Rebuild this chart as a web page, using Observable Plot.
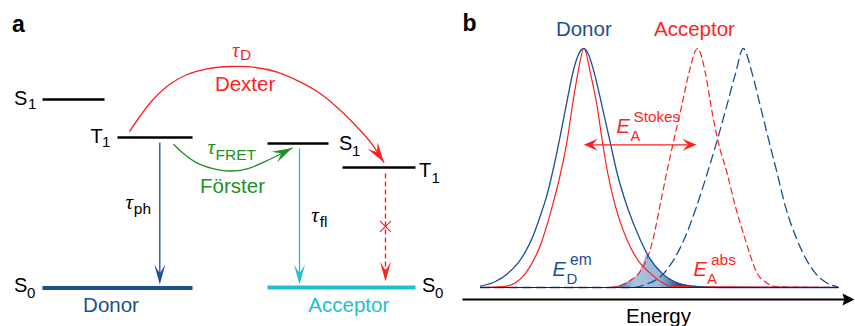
<!DOCTYPE html>
<html><head><meta charset="utf-8">
<script src="https://cdn.jsdelivr.net/npm/d3@7"></script>
<script src="https://cdn.jsdelivr.net/npm/@observablehq/plot@0.6"></script>
<style>
html,body{margin:0;padding:0;background:#fff;}
#fig{position:relative;width:855px;height:326px;overflow:hidden;}
#pa,#pb{position:absolute;left:0;top:0;}
</style></head><body><div id="fig"><div id="pa"></div><div id="pb"></div></div>
<script>
// ---------- Panel a : Jablonski-type level diagram (figure units) ----------
const levelX1 = [42, 117, 267, 342];
const levelX2 = [104, 192, 328, 415];
const levelY  = [99, 137, 143, 167];
const groundX1 = [42, 267];
const groundX2 = [192, 415];
const groundY  = [287.5, 287];
const stateText = ["S", "T", "S", "T", "S", "S"];
const stateSub  = ["1", "1", "1", "1", "0", "0"];
const stateX = [13.5, 90, 338.5, 418.5, 13.5, 421.5];
const stateY = [104, 142.5, 149.5, 176.5, 291.5, 291.5];
const stateSubX = [27.5, 101.5, 351.5, 431, 26.5, 434.5];
const stateSubY = [108.5, 146, 155, 182, 297.5, 297.5];
const groundNames = ["Donor", "Acceptor"];
const groundNameX = [110.5, 348.3];
const groundNameY = [311.7, 311.7];
// vertical decay arrows: phosphorescence, fluorescence, blocked
const decayX = [159.3, 299, 385];
const decayY1 = [142, 148, 173];
const decayY2 = [284, 284, 281];
const crossY = 226;
// Dexter and Förster transfer arcs
const dexterX = [129.3, 140, 153.3, 170, 186.7, 206.7, 230, 253.3, 276.7, 300, 320, 340, 356.7, 370, 383.3];
const dexterY = [130.7, 115, 98.3, 83.3, 74, 68.3, 66, 66.7, 71.7, 81.7, 93.3, 110, 126.7, 141.7, 161.7];
const fretX = [173.3, 183.3, 196.7, 213.3, 230, 246.7, 263.3, 291.7];
const fretY = [144, 153.3, 162.7, 168.3, 170.5, 168.3, 161.7, 147.5];
const dexterHeadAngle = 56, fretHeadAngle = -27;
// tau labels
const tauNames = ["D", "FRET", "ph", "fl"];
const tauX = [231.5, 207, 125, 310.7];
const tauY = [56, 153.5, 208, 221];
const tauSubX = [239.5, 215, 133.3, 319.3];
const tauSubY = [59.5, 159.5, 213.3, 226.7];
const processNames = ["Dexter", "Förster"];
const processX = [244.6, 232];
const processY = [90.5, 192.3];

// ---------- Panel b : spectra (energy in figure units, intensity 0..1) ----------
const donorEmX = [480, 495, 507, 517, 525, 532, 539, 546, 553, 560, 567, 573, 578, 583, 588, 594, 601.7, 609.3, 616.7, 626.7, 640, 648.3, 661.7, 680, 700, 720, 838];
const donorEmI = [0.006, 0.025, 0.058, 0.1, 0.15, 0.21, 0.29, 0.38, 0.5, 0.64, 0.79, 0.91, 0.975, 1.0, 0.975, 0.895, 0.756, 0.616, 0.477, 0.338, 0.198, 0.128, 0.059, 0.015, 0.003, 0, 0];
const redSolidX = [480, 503, 515, 525, 541.7, 551.7, 560, 566.7, 571.7, 577.3, 583.5, 590, 596.7, 601.7, 607.3, 615, 626.7, 638, 650, 662, 672, 838];
const redSolidI = [0, 0.004, 0.02, 0.059, 0.198, 0.338, 0.477, 0.616, 0.756, 0.895, 1.0, 0.895, 0.756, 0.616, 0.477, 0.338, 0.198, 0.11, 0.059, 0.02, 0.004, 0];
const accAbsX = [480, 605, 620, 630, 638.3, 652.3, 659.3, 666, 673.3, 681, 688.3, 697, 705, 710.7, 717.3, 726.7, 735, 745, 756.7, 766, 777, 838];
const accAbsI = [0, 0, 0.008, 0.03, 0.059, 0.198, 0.338, 0.477, 0.616, 0.756, 0.895, 1.0, 0.895, 0.756, 0.616, 0.477, 0.338, 0.198, 0.059, 0.02, 0.003, 0];
const blueDashX = [480, 630, 645, 663.3, 683.3, 696, 706.7, 716.7, 726, 735, 742.7, 751.7, 760, 768.3, 776.7, 785, 796.7, 815, 826, 837];
const blueDashI = [0, 0, 0.012, 0.059, 0.198, 0.338, 0.477, 0.616, 0.756, 0.895, 1.0, 0.895, 0.756, 0.616, 0.477, 0.338, 0.198, 0.059, 0.02, 0.003];
const overlapX = [612, 620, 630, 638.3, 643, 647, 648.3, 655, 661.7, 670, 680, 692, 702];
const overlapI = [0, 0.008, 0.03, 0.059, 0.1, 0.138, 0.128, 0.09, 0.059, 0.035, 0.015, 0.005, 0];
const titleNames = ["Donor", "Acceptor"];
const titleX = [583.3, 694];
const titleI = [1.054, 1.054];
const stokesX1 = 583.3, stokesX2 = 696, stokesI = 0.597;
const axisX1 = 462, axisX2 = 854, axisI = -0.05;

const FONT = "'Liberation Sans', Arial, Helvetica, sans-serif";
const SERIF = "'Liberation Serif', 'DejaVu Serif', serif";
const RED = "#ff1f1f", GREEN = "#1f8f25", NAVY = "#1c4f93", CYAN = "#1ec0d0";

// stealth arrow head symbol; tip at the data point
function head(angleDeg, len, half, notch) {
  const a = angleDeg * Math.PI / 180, c = Math.cos(a), s = Math.sin(a);
  const pt = (u, v) => [u * c - v * s, u * s + v * c];
  return {draw(ctx) {
    const p = [pt(0, 0), pt(-len, -half), pt(-len * notch, 0), pt(-len, half)];
    ctx.moveTo(p[0][0], p[0][1]);
    for (let i = 1; i < 4; i++) ctx.lineTo(p[i][0], p[i][1]);
    ctx.closePath();
  }};
}
const idx = n => d3.range(n);
const headDot = (x, y, sym, fill) => Plot.dot([0], {x: () => x, y: () => y, symbol: sym, fill, stroke: "none"});
const txt = (ix, o) => Plot.text(ix, {lineAnchor: "bottom", fontFamily: FONT, ...o});

const pa = Plot.plot({
  width: 855, height: 326, margin: 0,
  x: {domain: [0, 855], range: [0, 855], axis: null},
  y: {domain: [0, 326], range: [0, 326], axis: null},
  style: {background: "transparent", overflow: "visible"},
  marks: [
    Plot.link(idx(4), {x1: i => levelX1[i], x2: i => levelX2[i], y1: i => levelY[i], y2: i => levelY[i], stroke: "black", strokeWidth: 2.6}),
    Plot.link([0], {x1: i => groundX1[i], x2: i => groundX2[i], y1: i => groundY[i], y2: i => groundY[i], stroke: NAVY, strokeWidth: 4}),
    Plot.link([1], {x1: i => groundX1[i], x2: i => groundX2[i], y1: i => groundY[i], y2: i => groundY[i], stroke: CYAN, strokeWidth: 4}),
    // decays
    Plot.link([0], {x1: i => decayX[i], x2: i => decayX[i], y1: i => decayY1[i], y2: i => decayY2[i] - 6, stroke: NAVY, strokeWidth: 1.3}),
    Plot.link([1], {x1: i => decayX[i], x2: i => decayX[i], y1: i => decayY1[i], y2: i => decayY2[i] - 6, stroke: CYAN, strokeWidth: 1.3}),
    Plot.link([2], {x1: i => decayX[i], x2: i => decayX[i], y1: i => decayY1[i], y2: i => decayY2[i] - 6, stroke: RED, strokeWidth: 1.4, strokeDasharray: "5,3"}),
    headDot(decayX[0], decayY2[0], head(90, 20, 5.5, 0.55), NAVY),
    headDot(decayX[1], decayY2[1], head(90, 20, 5.5, 0.55), CYAN),
    headDot(decayX[2], decayY2[2], head(90, 20, 5.5, 0.55), RED),
    Plot.dot([0], {x: () => decayX[2], y: () => crossY, symbol: "times", r: 5, stroke: RED, strokeWidth: 1.2}),
    // transfer arcs
    Plot.line(idx(dexterX.length), {x: i => dexterX[i], y: i => dexterY[i], stroke: RED, strokeWidth: 1.3, curve: "catmull-rom"}),
    headDot(dexterX[dexterX.length - 1], dexterY[dexterY.length - 1], head(dexterHeadAngle, 20, 6, 0.6), RED),
    Plot.line(idx(fretX.length), {x: i => fretX[i], y: i => fretY[i], stroke: GREEN, strokeWidth: 1.3, curve: "catmull-rom"}),
    headDot(fretX[fretX.length - 1], fretY[fretY.length - 1], head(fretHeadAngle, 20, 6, 0.6), GREEN),
    // labels
    txt([0], {x: () => 11.5, y: () => 31, text: () => "a", fontWeight: "bold", fontSize: 23, textAnchor: "start", fill: "black"}),
    txt(idx(6), {x: i => stateX[i], y: i => stateY[i], text: i => stateText[i], fontSize: 20, textAnchor: "start", fill: "black"}),
    txt(idx(6), {x: i => stateSubX[i], y: i => stateSubY[i], text: i => stateSub[i], fontSize: 15, textAnchor: "start", fill: "black"}),
    txt([0], {x: i => groundNameX[i], y: i => groundNameY[i], text: i => groundNames[i], fontSize: 20.5, fill: NAVY}),
    txt([1], {x: i => groundNameX[i], y: i => groundNameY[i], text: i => groundNames[i], fontSize: 20.5, fill: CYAN}),
    txt([0], {x: i => processX[i], y: i => processY[i], text: i => processNames[i], fontSize: 20.5, fill: RED}),
    txt([1], {x: i => processX[i], y: i => processY[i], text: i => processNames[i], fontSize: 20.5, fill: GREEN}),
    Plot.text(idx(4), {x: i => tauX[i], y: i => tauY[i], text: () => "τ", fontFamily: SERIF, fontStyle: "italic", fontSize: 21, textAnchor: "start", lineAnchor: "bottom",
      fill: i => [RED, GREEN, "black", "black"][i]}),
    txt(idx(4), {x: i => tauSubX[i], y: i => tauSubY[i], text: i => tauNames[i], fontSize: 15.5, textAnchor: "start",
      fill: i => [RED, GREEN, "black", "black"][i]})
  ]
});
document.getElementById("pa").appendChild(pa);

const pts = (X, I) => X.map((x, i) => ({x, y: I[i]}));
const pb = Plot.plot({
  width: 855, height: 326, margin: 0,
  x: {domain: [0, 855], range: [0, 855], axis: null},
  y: {domain: [0, 1], range: [287, 48], axis: null},
  style: {background: "transparent", overflow: "visible"},
  marks: [
    Plot.areaY(pts(overlapX, overlapI), {x: "x", y: "y", fill: "url(#overlapGrad)", curve: "monotone-x"}),
    Plot.line(pts(blueDashX, blueDashI), {x: "x", y: "y", stroke: NAVY, strokeWidth: 1.3, strokeDasharray: "9,5", curve: "monotone-x"}),
    Plot.line(pts(accAbsX, accAbsI), {x: "x", y: "y", stroke: RED, strokeWidth: 1.2, strokeDasharray: "6,4", curve: "monotone-x"}),
    Plot.line(pts(redSolidX, redSolidI), {x: "x", y: "y", stroke: RED, strokeWidth: 1.2, curve: "monotone-x"}),
    Plot.line(pts(donorEmX, donorEmI), {x: "x", y: "y", stroke: NAVY, strokeWidth: 1.3, curve: "monotone-x"}),
    Plot.ruleY([0], {x1: 480, x2: 838, stroke: "#222", strokeWidth: 1}),
    // axis
    Plot.link([0], {x1: () => axisX1, x2: () => axisX2 - 8, y1: () => axisI, y2: () => axisI, stroke: "black", strokeWidth: 2}),
    headDot(axisX2, axisI, head(0, 12, 6, 0.85), "black"),
    // Stokes shift arrow
    Plot.link([0], {x1: () => stokesX1 + 4, x2: () => stokesX2 - 4, y1: () => stokesI, y2: () => stokesI, stroke: RED, strokeWidth: 1.3}),
    headDot(stokesX1, stokesI, head(180, 14, 6, 0.6), RED),
    headDot(stokesX2, stokesI, head(0, 14, 6, 0.6), RED),
    // labels
    txt([0], {x: () => 462, y: () => 1.072, text: () => "b", fontWeight: "bold", fontSize: 23, textAnchor: "start", fill: "black"}),
    txt([0], {x: i => titleX[i], y: i => titleI[i], text: i => titleNames[i], fontSize: 20.5, fill: NAVY}),
    txt([1], {x: i => titleX[i], y: i => titleI[i], text: i => titleNames[i], fontSize: 20.5, fill: RED}),
    txt([0], {x: () => 658, y: () => -0.148, text: () => "Energy", fontSize: 20.5, fill: "black"}),
    // E labels
    txt([0], {x: () => 616, y: () => 0.647, text: () => "E", fontStyle: "italic", fontSize: 20, textAnchor: "start", fill: RED}),
    txt([0], {x: () => 630, y: () => 0.615, text: () => "A", fontSize: 14.5, textAnchor: "start", fill: RED}),
    txt([0], {x: () => 633, y: () => 0.692, text: () => "Stokes", fontSize: 15.3, textAnchor: "start", fill: RED}),
    txt([0], {x: () => 552, y: () => 0.050, text: () => "E", fontStyle: "italic", fontSize: 20, textAnchor: "start", fill: NAVY}),
    txt([0], {x: () => 566, y: () => 0.0155, text: () => "D", fontSize: 15, textAnchor: "start", fill: NAVY}),
    txt([0], {x: () => 569.5, y: () => 0.096, text: () => "em", fontSize: 15.6, textAnchor: "start", fill: NAVY}),
    txt([0], {x: () => 693, y: () => 0.050, text: () => "E", fontStyle: "italic", fontSize: 20, textAnchor: "start", fill: RED}),
    txt([0], {x: () => 706.5, y: () => 0.0155, text: () => "A", fontSize: 15, textAnchor: "start", fill: RED}),
    txt([0], {x: () => 710.5, y: () => 0.096, text: () => "abs", fontSize: 15.5, textAnchor: "start", fill: RED})
  ]
});
// horizontal gradient for the spectral-overlap shading
const ns = "http://www.w3.org/2000/svg";
const defs = document.createElementNS(ns, "defs");
const grad = document.createElementNS(ns, "linearGradient");
grad.setAttribute("id", "overlapGrad");
grad.setAttribute("gradientUnits", "userSpaceOnUse");
grad.setAttribute("x1", "612"); grad.setAttribute("x2", "702");
grad.setAttribute("y1", "0"); grad.setAttribute("y2", "0");
[[0, "#1c4f93"], [0.12, "#6f94c4"], [0.25, "#aac3e0"], [0.52, "#9ab8da"], [0.64, "#5d86bb"], [0.74, "#1c4f93"], [1, "#1c4f93"]].forEach(([o, c]) => {
  const s = document.createElementNS(ns, "stop");
  s.setAttribute("offset", o); s.setAttribute("stop-color", c);
  grad.appendChild(s);
});
defs.appendChild(grad);
pb.insertBefore(defs, pb.firstChild);
document.getElementById("pb").appendChild(pb);
</script></body></html>
